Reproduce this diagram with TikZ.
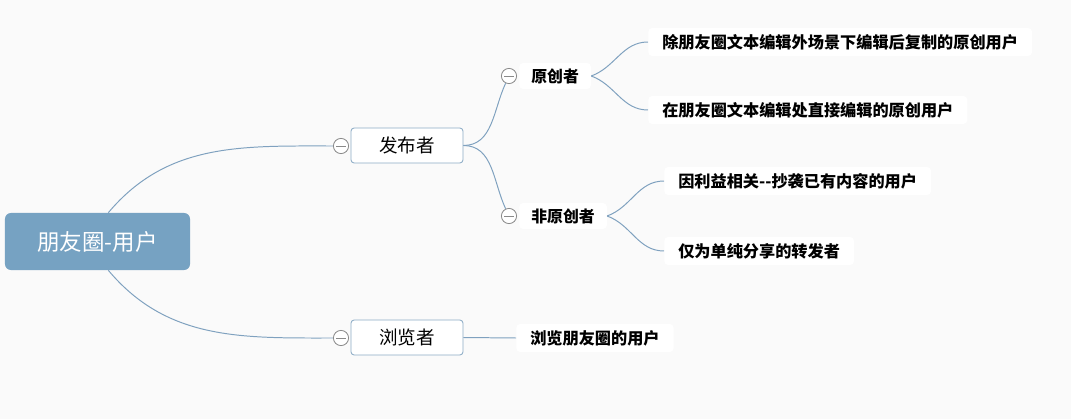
\documentclass[tikz,border=0pt]{standalone}
\usepackage{fontspec}
\setmainfont{Noto Sans CJK SC}
\usepackage{tikz}
\usepackage{xcolor}
\definecolor{myrootblue}{HTML}{76A2C2}
\definecolor{mylineblue}{HTML}{7FA1BF}
\definecolor{myboxblue}{HTML}{8CACC6}
\definecolor{mycirclegray}{HTML}{8A8A8A}
\definecolor{mybackground}{HTML}{FAFAFA}

\begin{document}
\begin{tikzpicture}[x=0.025cm,y=-0.025cm]
			\tikzset{% This is the style settings for nodes
				rootnode/.style={rectangle,rounded corners=0.15cm,minimum width=4.625cm,minimum height=1.425cm,fill=myrootblue,text=white,font=\fontsize{16}{18}\selectfont},
				topicnode/.style={rectangle,rounded corners=0.08cm,minimum width=2.8cm,minimum height=0.875cm,fill=white,draw=myboxblue,line width=0.6pt,font=\fontsize{13.2}{16}\selectfont},
				subnode/.style={rectangle,rounded corners=0.1cm,anchor=west,inner xsep=0.3cm,minimum height=0.65cm,fill=white,font=\bfseries\fontsize{11.3}{14}\selectfont},
				leafnode/.style={rectangle,rounded corners=0.1cm,anchor=west,inner xsep=0.35cm,minimum height=0.7cm,fill=white,font=\bfseries\fontsize{11.5}{14}\selectfont},
				foldnode/.style={circle,minimum size=0.38cm,inner sep=0pt,fill=white,draw=mycirclegray,line width=0.6pt,
					path picture={\draw[mycirclegray,line width=0.6pt] ([xshift=-0.12cm]path picture bounding box.center) -- ([xshift=0.12cm]path picture bounding box.center);}},
				branch/.style={draw=mylineblue,line width=0.7pt}}
			\fill[mybackground] (0,0) rectangle (1071,419);
			\node[rootnode] (0) at (97.5,241.5) {朋友圈-用户};
			\node[topicnode] (1) at (407,145.5) {发布者};
			\node[topicnode] (2) at (407,337.5) {浏览者};
			\node[foldnode] (c1) at (341,146) {};
			\node[foldnode] (c2) at (341,338) {};
			\node[subnode] (3) at (519,76) {原创者};
			\node[subnode] (4) at (519,216) {非原创者};
			\node[foldnode] (c3) at (509,76) {};
			\node[foldnode] (c4) at (509,216) {};
			\node[leafnode] (5) at (648,42) {除朋友圈文本编辑外场景下编辑后复制的原创用户};
			\node[leafnode] (6) at (648,110) {在朋友圈文本编辑处直接编辑的原创用户};
			\node[leafnode] (7) at (664,181) {因利益相关-{}-抄袭已有内容的用户};
			\node[leafnode] (8) at (664,251) {仅为单纯分享的转发者};
			\node[leafnode] (9) at (516,338) {浏览朋友圈的用户};

			\draw[branch] ([xshift=0.27cm]0.north) to[out=50,in=180] (c1);
			\draw[branch] ([xshift=0.27cm]0.south) to[out=-50,in=180] (c2);
			\draw[branch] (1.east) to[out=0,in=-115] (c3);
			\draw[branch] (1.east) to[out=0,in=115] (c4);
			\draw[branch] (3.east) to[out=20,in=180] (5.west);
			\draw[branch] (3.east) to[out=-20,in=180] (6.west);
			\draw[branch] (4.east) to[out=20,in=180] (7.west);
			\draw[branch] (4.east) to[out=-20,in=180] (8.west);
			\draw[branch] (2.east) -- (9.west);
		\end{tikzpicture}
\end{document}
